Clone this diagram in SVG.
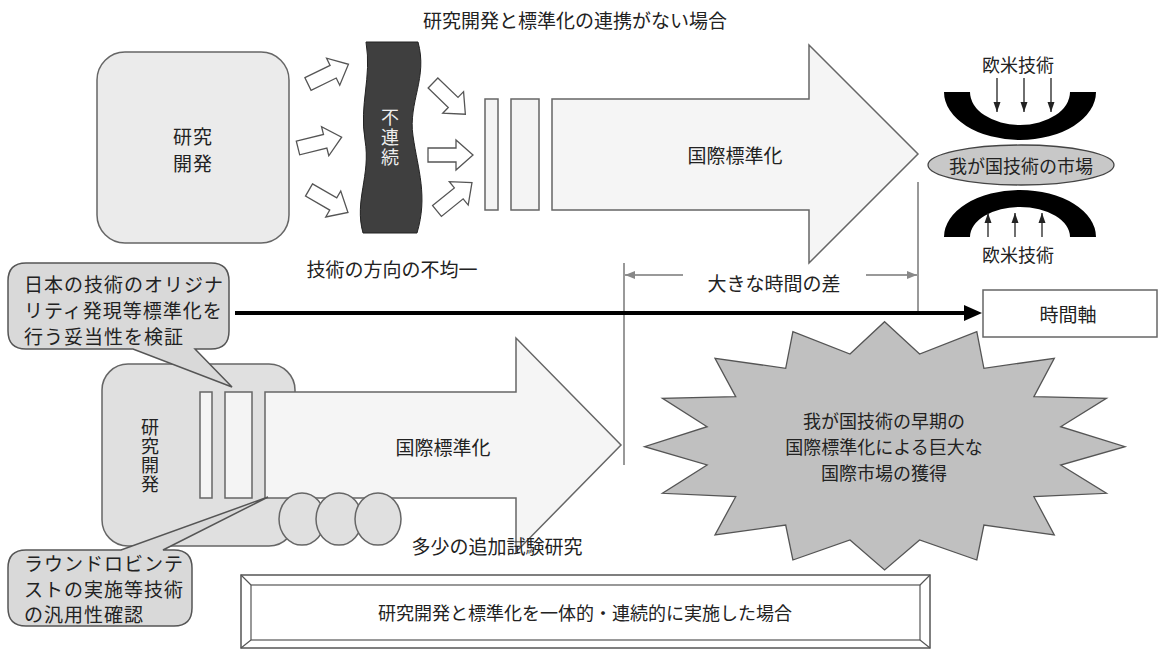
<svg xmlns="http://www.w3.org/2000/svg" width="1159" height="649" viewBox="0 0 1159 649">
<style>
text{font-family:"Noto Sans CJK JP","Noto Sans CJK SC",sans-serif;fill:#222;dominant-baseline:central;text-anchor:middle}
.t19{font-size:19px}
.t18{font-size:18px}
.t20{font-size:20px}
.cl{font-size:19px;letter-spacing:1px;text-anchor:start}
.vert{writing-mode:vertical-rl;text-orientation:upright}
.box{fill:#ebebeb;stroke:#666;stroke-width:1.5}
.box2{fill:#e0e0e0;stroke:#666;stroke-width:1.5}
.call{fill:#d9d9d9;stroke:#555;stroke-width:1.5}
.bar{fill:#f4f4f4;stroke:#666;stroke-width:1.5}
.big{fill:#f5f5f5;stroke:#666;stroke-width:1.5}
.ha{fill:#fff;stroke:#555;stroke-width:1.3}
.circ{fill:#e0e0e0;stroke:#666;stroke-width:1.5}
.gl{stroke:#777;stroke-width:1.5;fill:none}
.thin{stroke:#222;stroke-width:1.3;fill:none}
</style>
<defs>
<marker id="mAxis" markerUnits="userSpaceOnUse" markerWidth="18" markerHeight="16" refX="4" refY="8" orient="auto"><path d="M0,0 L18,8 L0,16 Z" fill="#000"/></marker>
<marker id="mGray" markerUnits="userSpaceOnUse" markerWidth="10" markerHeight="8" refX="10" refY="4" orient="auto"><path d="M0,0 L10,4 L0,8 Z" fill="#888"/></marker>
<marker id="mSmall" markerUnits="userSpaceOnUse" markerWidth="10" markerHeight="8" refX="10" refY="4" orient="auto"><path d="M0,0.5 L10,4 L0,7.5 Z" fill="#222"/></marker>
<path id="hollow" d="M0,-7 L28,-7 L28,-15 L45,0 L28,15 L28,7 L0,7 Z"/>
</defs>

<text class="t19" x="575" y="19" id="title">研究開発と標準化の連携がない場合</text>

<g id="rd-top">
<rect class="box" x="97" y="52" width="192" height="191" rx="28"/>
<text class="t19" style="letter-spacing:1px"><tspan x="193" y="135">研究</tspan><tspan x="193" y="162">開発</tspan></text>
</g>

<g id="discontinuity">
<path d="M366,42 L418,42 C428,78 408,102 413,136 C418,170 428,196 417,233 L363,233 C354,200 371,176 365,140 C359,104 372,78 366,42 Z" fill="#3f3f3f" stroke="#222" stroke-width="1"/>
<text class="t18 vert" x="390" y="138" style="fill:#eee;letter-spacing:2px">不連続</text>
</g>

<g id="dir-arrows">
<use href="#hollow" class="ha" transform="translate(308,84) rotate(-26)"/>
<use href="#hollow" class="ha" transform="translate(298,148) rotate(-14)"/>
<use href="#hollow" class="ha" transform="translate(309,190) rotate(30)"/>
<use href="#hollow" class="ha" transform="translate(433,83) rotate(44)"/>
<use href="#hollow" class="ha" transform="translate(428,155)"/>
<use href="#hollow" class="ha" transform="translate(437,211) rotate(-39)"/>
</g>

<g id="std-top">
<rect class="bar" x="485" y="99" width="13" height="111"/>
<rect class="bar" x="511" y="99" width="28" height="111"/>
<path class="big" d="M552,99 H809 V45 L918,154 L809,263 V210 H552 Z"/>
<text class="t19" x="735" y="154">国際標準化</text>
</g>

<text class="t19" x="392" y="268" id="uneven">技術の方向の不均一</text>

<g id="market-top">
<text class="t18" x="1018" y="64">欧米技術</text>
<path d="M944,92 A76,48 0 0 0 1096,92 L1070,92 A50,33 0 0 1 970,92 Z" fill="#000"/>
<line class="thin" x1="997" y1="78" x2="997" y2="112" marker-end="url(#mSmall)"/>
<line class="thin" x1="1024" y1="78" x2="1024" y2="112" marker-end="url(#mSmall)"/>
<line class="thin" x1="1051" y1="78" x2="1051" y2="112" marker-end="url(#mSmall)"/>
</g>

<g id="market">
<ellipse cx="1021" cy="165" rx="93" ry="20" fill="#c8c8c8" stroke="#444" stroke-width="1.3"/>
<text class="t18" x="1021" y="165">我が国技術の市場</text>
</g>

<g id="market-bottom">
<path d="M944,237 A76,47 0 0 1 1096,237 L1070,237 A50,30 0 0 0 970,237 Z" fill="#000"/>
<line class="thin" x1="988" y1="237" x2="988" y2="213" marker-end="url(#mSmall)"/>
<line class="thin" x1="1015" y1="237" x2="1015" y2="213" marker-end="url(#mSmall)"/>
<line class="thin" x1="1042" y1="237" x2="1042" y2="213" marker-end="url(#mSmall)"/>
<text class="t18" x="1018" y="254">欧米技術</text>
</g>

<g id="connectors">
<line x1="624" y1="263" x2="624" y2="465" class="gl"/>
<line x1="918" y1="182" x2="918" y2="313" class="gl"/>
<line x1="683" y1="275" x2="625" y2="275" class="gl" marker-end="url(#mGray)"/>
<line x1="866" y1="275" x2="917" y2="275" class="gl" marker-end="url(#mGray)"/>
<line x1="235" y1="313" x2="968" y2="313" stroke="#000" stroke-width="4" marker-end="url(#mAxis)"/>
</g>

<text class="t19" x="774" y="282" id="gap">大きな時間の差</text>

<g id="time-axis">
<rect x="983" y="290" width="174" height="47" fill="#fff" stroke="#666" stroke-width="1.5"/>
<text class="t19" x="1068" y="313">時間軸</text>
</g>

<g id="burst">
<polygon points="884.6,321.7 919.6,354 976.8,331.7 983.9,368.3 1054.3,358.3 1033.9,396.7 1106.4,398.3 1060.7,426.7 1125,446.7 1060.7,465 1106.4,493.3 1033.9,496.7 1054.3,535 983.9,525 976.8,560 919.6,540 884.6,570 850,540 792.9,560 785.7,525 715,535 735.7,496.7 662.5,493.3 707.1,465 644.6,446.7 707.1,426.7 662.5,398.3 735.7,396.7 715,358.3 785.7,368.3 792.9,331.7 850,354" fill="#c0c0c0" stroke="#555" stroke-width="1.3"/>
<text class="t18"><tspan x="884" y="420">我が国技術の早期の</tspan><tspan x="884" y="446">国際標準化による巨大な</tspan><tspan x="884" y="472">国際市場の獲得</tspan></text>
</g>

<g id="rd-bottom">
<rect class="box2" x="102" y="364" width="193" height="182" rx="26"/>
<text class="t18 vert" x="150" y="456" style="letter-spacing:1px">研究開発</text>
</g>

<g id="std-bottom">
<rect class="bar" x="200" y="392" width="12" height="106"/>
<rect class="bar" x="225" y="392" width="27" height="106"/>
<path class="big" d="M265,392 H516 V338 L621,445 L516,552 V498 H265 Z"/>
<text class="t19" x="443" y="446">国際標準化</text>
</g>

<g id="extra-tests">
<ellipse class="circ" cx="302" cy="519" rx="23" ry="26"/>
<ellipse class="circ" cx="339" cy="519" rx="23" ry="26"/>
<ellipse class="circ" cx="378" cy="519" rx="23" ry="26"/>
<text class="t19" x="497" y="545">多少の追加試験研究</text>
</g>

<g id="callout-top">
<path class="call" d="M26,263 H211 Q229,263 229,281 V331 Q229,349 211,349 H195 L232,387 L133,349 H26 Q8,349 8,331 V281 Q8,263 26,263 Z"/>
<text class="cl"><tspan x="24" y="283">日本の技術のオリジナ</tspan><tspan x="24" y="309">リティ発現等標準化を</tspan><tspan x="24" y="335">行う妥当性を検証</tspan></text>
</g>

<g id="callout-bottom">
<path class="call" d="M26,550 H121 L268,497 L163,550 H174 Q192,550 192,568 V608 Q192,626 174,626 H26 Q8,626 8,608 V568 Q8,550 26,550 Z"/>
<text class="cl"><tspan x="24" y="562">ラウンドロビンテ</tspan><tspan x="24" y="587.5">ストの実施等技術</tspan><tspan x="24" y="613">の汎用性確認</tspan></text>
</g>

<g id="frame">
<rect x="241" y="575" width="689" height="73" fill="#fff" stroke="#555" stroke-width="1.5"/>
<rect x="251" y="585" width="669" height="55" fill="#fff" stroke="#555" stroke-width="1.2"/>
<path d="M241,575 L251,585 M930,575 L920,585 M241,648 L251,640 M930,648 L920,640" stroke="#555" stroke-width="1.2"/>
<text class="t18" x="585" y="612">研究開発と標準化を一体的・連続的に実施した場合</text>
</g>
</svg>
